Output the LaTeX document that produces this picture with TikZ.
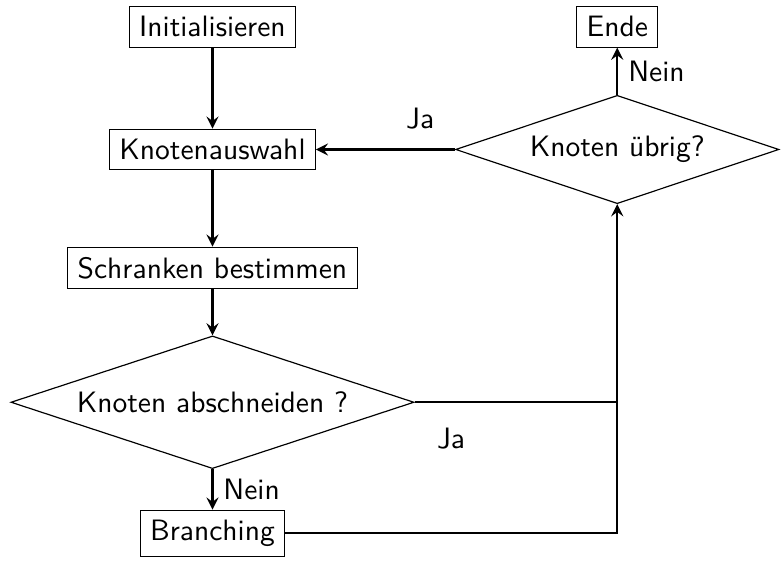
\documentclass[tikz,border=0pt]{standalone}
\usepackage{tikz}
\usetikzlibrary{shapes.geometric}

\begin{document}
\begin{tikzpicture}[>=stealth,
        every node/.style={font=\sffamily},
        box/.style={draw},
        frage/.style={draw,diamond,aspect=3,inner sep=1pt},
        pfeil/.style={thick,->}]
        \useasboundingbox (0,0) rectangle (9.30,-6.67);
        \node[box] (init) at (2.53,-0.32) {Initialisieren};
        \node[box] (auswahl) at (2.53,-1.78) {Knotenauswahl};
        \node[box] (schranken) at (2.53,-3.19) {Schranken bestimmen};
        \node[frage,minimum width=4.80cm,minimum height=1.58cm] (abschneiden) at (2.53,-4.79) {Knoten abschneiden ?};
        \node[box] (branching) at (2.53,-6.35) {Branching};
        \node[frage,minimum width=3.85cm,minimum height=1.29cm] (uebrig) at (7.35,-1.78) {Knoten übrig?};
        \node[box] (ende) at (7.35,-0.32) {Ende};
        \coordinate (knick) at (uebrig |- abschneiden);
        % linke Spalte
        \draw[pfeil] (init)--(auswahl);
        \draw[pfeil] (auswahl)--(schranken);
        \draw[pfeil] (schranken)--(abschneiden);
        \draw[pfeil] (abschneiden)--node[right]{Nein}(branching);
        % zurueck nach oben
        \draw[pfeil] (abschneiden.east)--node[below=5pt,pos=0.18]{Ja}(knick)--(uebrig.south);
        \draw[thick] (branching.east)-|(knick);
        \draw[pfeil] (uebrig.west)--node[above=3pt,pos=0.25]{Ja}(auswahl.east);
        \draw[pfeil] (uebrig.north)--node[right]{Nein}(ende.south);
    \end{tikzpicture}
\end{document}
